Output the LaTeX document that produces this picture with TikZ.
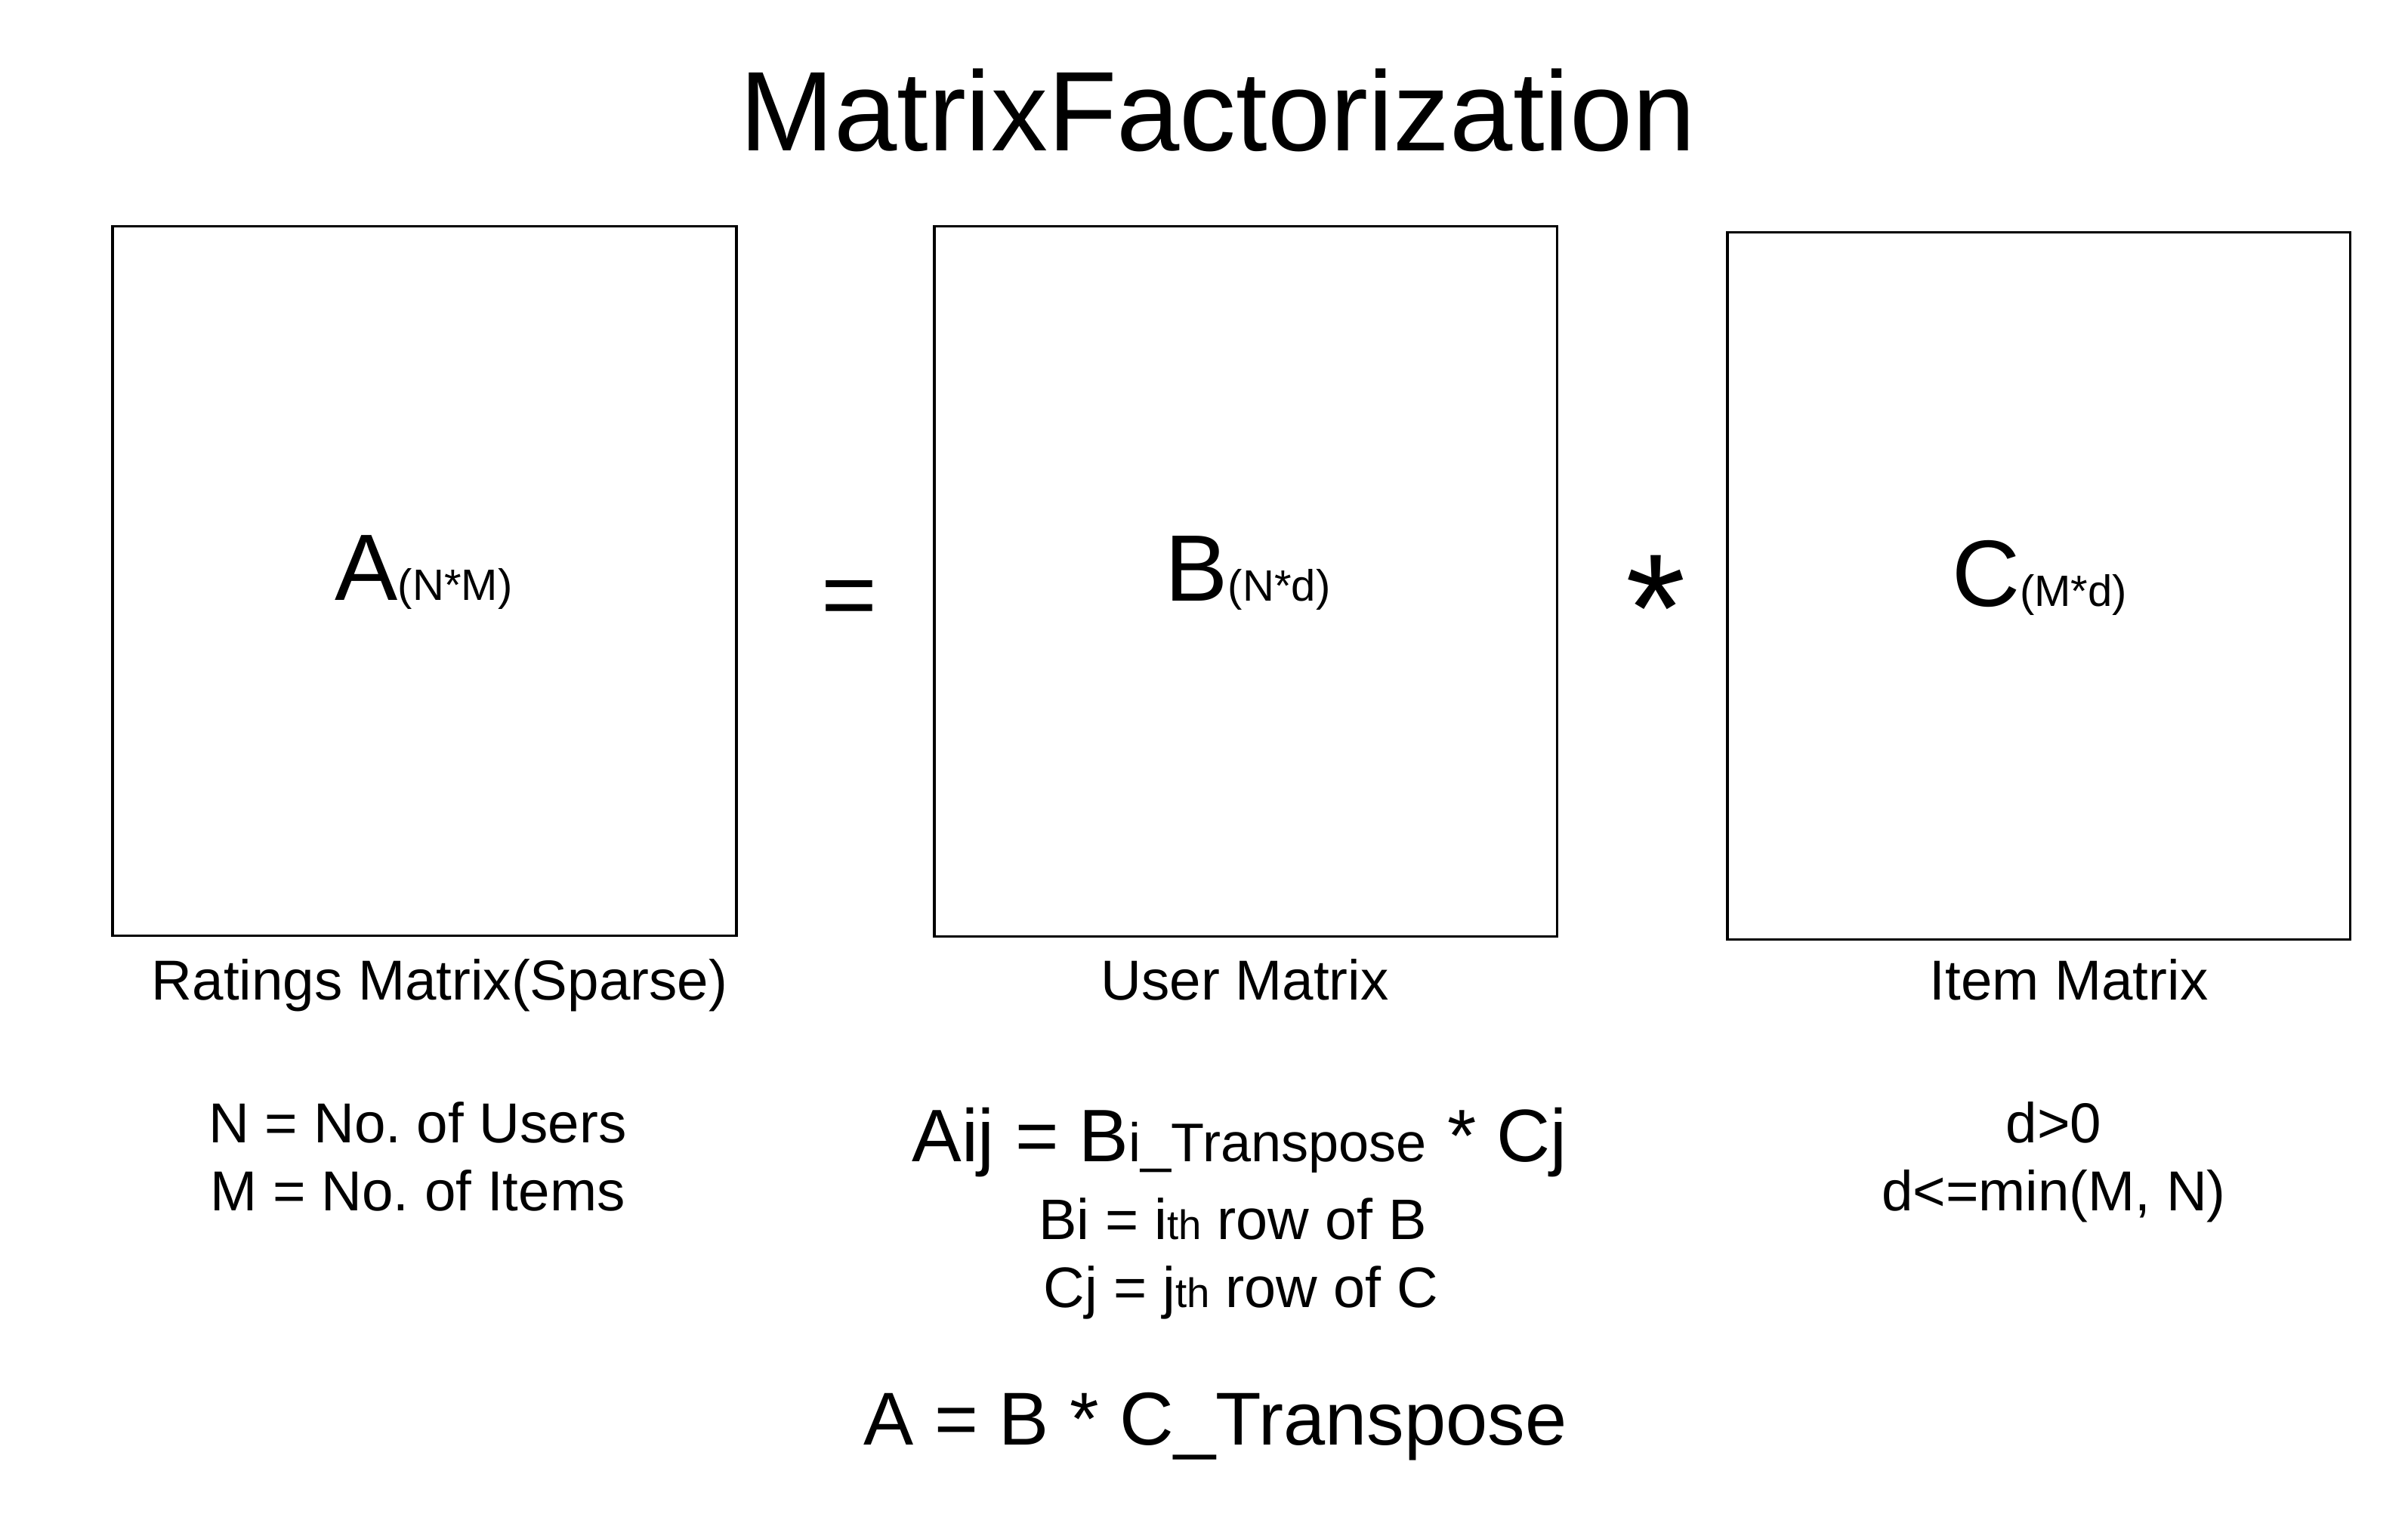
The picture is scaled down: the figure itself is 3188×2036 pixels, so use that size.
\documentclass[tikz,border=0pt]{standalone}
\usepackage{fontspec}
\setmainfont{Liberation Sans}
\frenchspacing
\newcommand{\fsz}[1]{\fontsize{#1pt}{#1pt}\selectfont}
\tikzset{
  matbox/.style  = {draw,line width=1pt,inner sep=0pt},
  bigsym/.style  = {inner sep=0pt,anchor=center},
  txtline/.style = {inner sep=0pt,anchor=base,font=\fsz{21.2}}
}

\begin{document}
\begin{tikzpicture}[x=0.01cm,y=-0.01cm]
  \useasboundingbox (0,0) rectangle (3188,2036);
  \node[txtline,font=\fsz{42.6}] (title) at (1612,199) {MatrixFactorization};
  % the three matrices
  \node[matbox,minimum width=8.26cm,minimum height=9.38cm] (matA) at (562,769) {};
  \node[matbox,minimum width=8.24cm,minimum height=9.39cm] (matB) at (1649,769.5) {};
  \node[matbox,minimum width=8.24cm,minimum height=9.35cm] (matC) at (2699,775.5) {};
  \node[txtline] (letA) at (561,794) {{\fsz{35.5}A}{\fsz{16.5}(N*M)}};
  \node[txtline] (letB) at (1652,795) {{\fsz{35.5}B}{\fsz{16.5}(N*d)}};
  \node[txtline] (letC) at (2700,802) {{\fsz{35.5}C}{\fsz{16.5}(M*d)}};
  \node[bigsym,font=\fsz{36}] (eqsign) at (1124,799) {=};
  \node[txtline,font=\fsz{58}] (mulsign) at (2192,875) {*};
  % captions
  \node[txtline] (capA) at (582,1323) {Ratings Matrix(Sparse)};
  \node[txtline] (capB) at (1648,1323) {User Matrix};
  \node[txtline] (capC) at (2739,1323) {Item Matrix};
  % notes
  \node[txtline] (noteN) at (553,1512) {N = No. of Users};
  \node[txtline] (noteM) at (553,1602) {M = No. of Items};
  \node[txtline] (dpos) at (2719,1512) {d>0};
  \node[txtline] (dmin) at (2719,1602) {d<=min(M, N)};
  \node[txtline] (formij) at (1641,1537)
    {{\fsz{28}Aij = B}{\fsz{20.5}i\_Transpose}{\fsz{28} * Cj}};
  \node[txtline,font=\fsz{21.5}] (rowB) at (1632,1640) {Bi = i{\fsz{15.5}th} row of B};
  \node[txtline,font=\fsz{21.5}] (rowC) at (1643,1730) {Cj = j{\fsz{15.5}th} row of C};
  \node[txtline,font=\fsz{28.2}] (formall) at (1609,1912) {A = B * C\_Transpose};
\end{tikzpicture}
\end{document}
